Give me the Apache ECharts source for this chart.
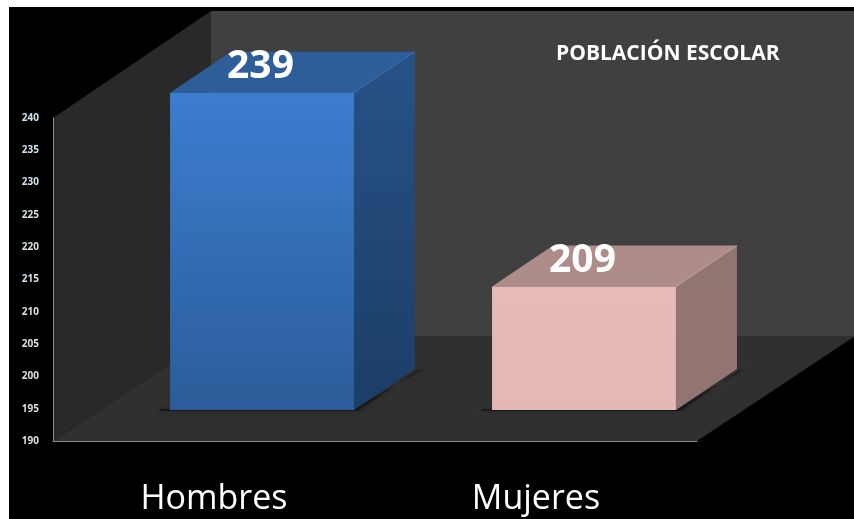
<!DOCTYPE html>
<html>
<head>
<meta charset="utf-8">
<title>Población escolar</title>
<script src="https://cdn.jsdelivr.net/npm/echarts@6/dist/echarts.min.js"></script>
<style>
    html, body { margin: 0; padding: 0; background: #fff; overflow: hidden; }
    #main { position: absolute; left: 9px; top: 7px; width: 845px; height: 512px; }
</style>
</head>
<body>
<div id="main"></div>
<script>
var categorias = ['Hombres', 'Mujeres'];
var valores = [239, 209];
var ejeMin = 190;
var ejeMax = 240;
var ejeIntervalo = 5;
var titulo = 'POBLACIÓN ESCOLAR';

// colores de cada barra: frente (arriba, abajo), tapa, lado (arriba, abajo), borde
var estilos = [
    { f1: '#3c7dd0', f2: '#2b5c99', tapa: '#2d5e99', l1: '#275286', l2: '#1c3e67', borde: '#3a70b4' },
    { f1: '#e8baba', f2: '#e6b7b7', tapa: '#ae8c89', l1: '#927674', l2: '#927472', borde: '#c9a3a1' }
];

var chart = echarts.init(document.getElementById('main'));

function grad(c1, c2) {
    return new echarts.graphic.LinearGradient(0, 0, 0, 1, [
        { offset: 0, color: c1 },
        { offset: 1, color: c2 }
    ]);
}

function poly(puntos, fill, extra) {
    var el = { type: 'polygon', shape: { points: puntos }, style: { fill: fill } };
    if (extra) {
        for (var k in extra) el.style[k] = extra[k];
    }
    return el;
}

// paredes y piso en perspectiva, a partir del area del grid
function renderEscena(params) {
    var c = params.coordSys;
    var dx = 158, dy = -107;
    var x0 = c.x, x1 = c.x + c.width, yTop = c.y, yBase = c.y + c.height;
    var piso = yBase + dy + 2;
    return {
        type: 'group',
        children: [
            poly([[x0 + dx, yTop + dy + 0], [x1 + dx - 1, yTop + dy], [x1 + dx - 1, piso], [x0 + dx, piso]], '#404040'),
            poly([[x0, yTop], [x0 + dx, yTop + dy], [x0 + dx, piso], [x0, yBase]], '#292929'),
            poly([[x0, yBase], [x1, yBase], [x1 + dx, piso], [x0 + dx, piso]], '#303030')
        ]
    };
}

// barra en 3D: el frente sale de la escala del eje, desplazado hacia el fondo
function renderBarra(params, api) {
    var i = params.dataIndex;
    var e = estilos[i];
    var arriba = api.coord([api.value(0), api.value(1)]);
    var abajo = api.coord([api.value(0), ejeMin]);
    var ancho = api.size([1, 0])[0] * 0.571;
    var offX = 48, offY = -31, profX = 61, profY = -41;
    var xa = arriba[0] + offX - ancho / 2;
    var xb = xa + ancho;
    var yt = arriba[1] + offY - 0.7;
    var yb = abajo[1] + offY;
    return {
        type: 'group',
        children: [
            poly([[xa - 10, yb - 1], [xb, yb - 1], [xb + profX + 10, yb + profY - 1], [xb + profX, yb + profY + 3], [xb + 4, yb + 1], [xa - 10, yb + 1]],
                'rgba(20,20,20,0.75)', { shadowBlur: 5, shadowColor: 'rgba(20,20,20,0.8)' }),
            poly([[xb, yt], [xb + profX, yt + profY], [xb + profX, yb + profY], [xb, yb]], grad(e.l1, e.l2)),
            poly([[xa, yt], [xb, yt], [xb + profX, yt + profY], [xa + profX, yt + profY]], e.tapa),
            { type: 'line', shape: { x1: xb, y1: yt, x2: xb + profX, y2: yt + profY }, style: { stroke: e.borde, lineWidth: 1 } },
            { type: 'rect', shape: { x: xa, y: yt, width: ancho, height: yb - yt }, style: { fill: grad(e.f1, e.f2) } },
            {
                type: 'text',
                style: {
                    x: xa + ancho / 2 - 1.5,
                    y: yt - 26,
                    text: String(api.value(1)),
                    fill: '#fff',
                    font: 'bold 39px "Open Sans"',
                    align: 'center',
                    verticalAlign: 'middle'
                }
            }
        ]
    };
}

chart.setOption({
    backgroundColor: '#000',
    animation: false,
    title: {
        text: titulo,
        left: 542,
        top: 32,
        textStyle: { color: '#fff', fontSize: 21, fontWeight: 'bold', fontFamily: 'Open Sans' }
    },
    grid: { left: 44, right: 157, top: 111, height: 323 },
    xAxis: {
        type: 'category',
        data: categorias,
        axisLine: { lineStyle: { color: '#8c8c8c', width: 1 } },
        axisTick: { show: false },
        axisLabel: { color: '#fff', fontSize: 34, fontFamily: 'Open Sans', margin: 41 }
    },
    yAxis: {
        type: 'value',
        min: ejeMin,
        max: ejeMax,
        interval: ejeIntervalo,
        splitLine: { show: false },
        axisLine: { show: true, lineStyle: { color: '#8c8c8c', width: 1 } },
        axisTick: { show: false },
        axisLabel: { color: '#d5e1ea', fontSize: 10, fontWeight: 'bold', fontFamily: 'Open Sans', margin: 14, padding: [2, 0, 0, 0] }
    },
    series: [
        {
            type: 'custom',
            silent: true,
            z: 0,
            renderItem: renderEscena,
            data: [[0, ejeMin]]
        },
        {
            type: 'custom',
            z: 3,
            renderItem: renderBarra,
            encode: { x: 0, y: 1 },
            data: valores.map(function (v, i) { return [i, v]; })
        }
    ]
});
</script>
</body>
</html>
